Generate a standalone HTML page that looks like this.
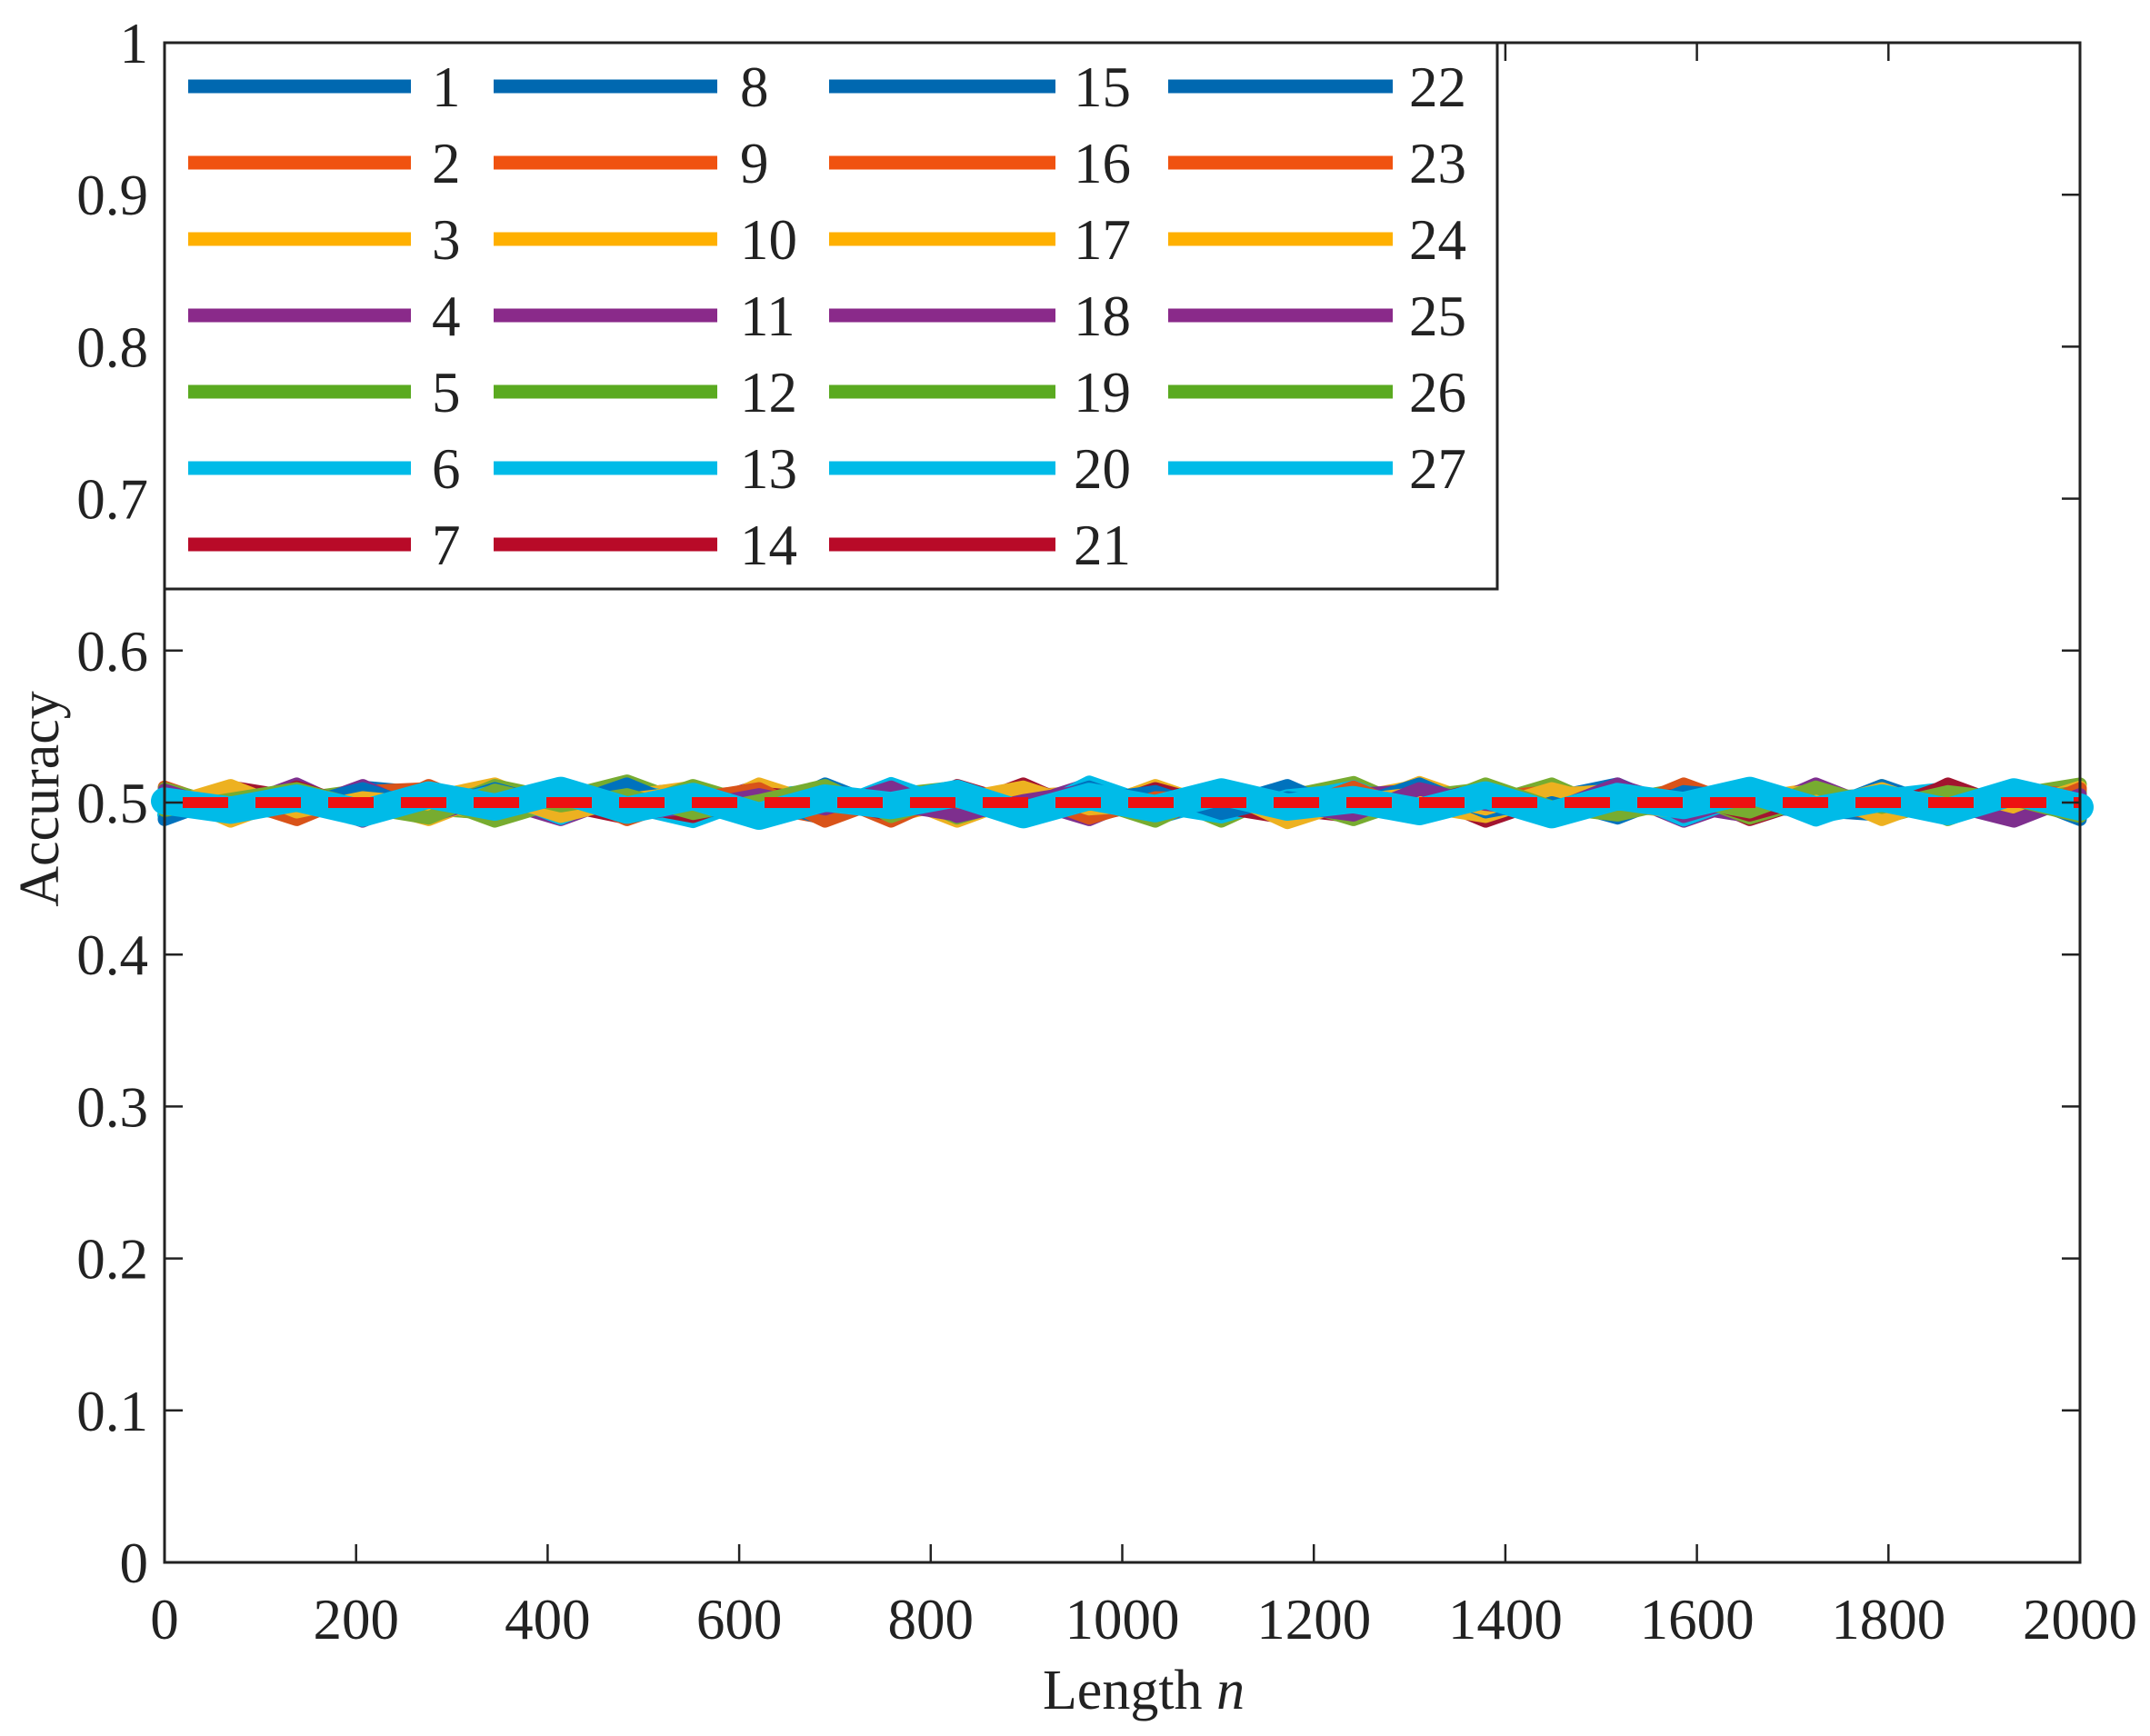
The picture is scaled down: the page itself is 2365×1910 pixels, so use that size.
<!DOCTYPE html>
<html><head><meta charset="utf-8"><style>
html,body{margin:0;padding:0;background:#fff;}
svg{display:block;font-family:"Liberation Serif",serif;}
</style></head><body>
<svg id="chart" width="2365" height="1910" viewBox="0 0 2365 1910">
<g id="marks"></g>
<g id="axes"></g>
<g id="legend"></g>
</svg>
<script>
const xTicks=[0,200,400,600,800,1000,1200,1400,1600,1800,2000];
const yTicks=[0,0.1,0.2,0.3,0.4,0.5,0.6,0.7,0.8,0.9,1];
const yTickLabels=["0","0.1","0.2","0.3","0.4","0.5","0.6","0.7","0.8","0.9","1"];
const colors=["#0072BD","#D95319","#EDB120","#7E2F8E","#77AC30","#00bbe8","#A2142F"];
const legendColors=["#0068b0","#f05210","#ffb000","#8a2a8a","#5aaa20","#00bbe8","#b80a28"];
const seriesLabels=["1","2","3","4","5","6","7","8","9","10","11","12","13","14","15","16","17","18","19","20","21","22","23","24","25","26","27"];
const baseline=0.5;
// deviation from 0.5, in thousandths, 30 samples per series across n = 0..2000
const dev=[
[3,-8,5,-2,9,-6,1,11,-4,-9,6,2,-7,10,-3,4,-11,7,-1,8,-5,3,12,-6,-2,9,-8,5,-3,6],
[-5,7,-9,4,1,-3,10,-7,6,-2,-10,8,3,-6,11,-4,2,-8,9,-1,5,-11,7,0,-5,10,-3,6,-9,4],
[8,-2,6,-10,3,12,-5,1,-7,9,-3,5,-12,4,7,-1,-6,10,-4,13,-2,-8,5,-3,9,-7,11,-5,2,-4],
[-9,4,-1,7,-6,2,-11,5,9,-3,1,-8,6,-2,12,-7,4,-5,1,-9,10,-4,6,-12,3,-6,8,-1,-10,5],
[6,-11,2,8,-4,-7,3,14,-2,5,-9,1,7,-5,-3,10,-8,4,13,-6,2,-10,1,9,-4,-2,7,-11,5,12],
[-2,5,-6,3,-1,8,-4,2,-9,6,0,-5,4,-3,7,-10,2,5,-4,1,-6,9,-2,3,-7,4,-1,6,-8,2],
[4,-6,9,-3,-8,5,-1,-10,7,2,-4,11,-6,3,-9,1,6,-2,-7,10,-5,4,-1,8,-11,3,-6,1,9,-3],
[-7,2,-4,10,6,-9,4,-3,1,-8,12,-5,2,8,-6,-1,9,-12,3,-4,7,1,-9,5,-2,-6,11,-4,3,-8],
[10,-5,1,-6,3,-2,8,-11,4,7,-1,-4,9,-8,2,5,-3,6,-10,2,-7,8,-4,-1,10,-9,3,7,-5,1],
[-3,9,-7,1,-11,6,-2,4,10,-6,3,-9,1,5,-4,8,-1,-7,3,11,-8,0,6,-5,2,9,-6,-2,4,-10],
[1,-4,12,-8,5,-1,-6,7,-3,11,-9,4,-2,-5,9,-11,5,2,-6,-3,8,-7,11,-2,-9,5,1,-7,10,-4],
[-10,6,-3,5,-7,11,2,-5,8,-1,-6,9,-10,3,-2,6,-12,8,-3,5,-1,12,-7,4,-3,7,-10,2,-5,8],
[5,-1,-8,2,7,-4,9,-2,-12,4,8,-3,5,-9,13,-2,-5,1,10,-7,4,-3,2,-8,6,-11,4,9,-1,-6],
[-6,10,3,-9,2,6,-8,3,5,-10,1,7,-4,12,-7,2,8,-4,-9,6,-12,3,-5,10,-1,2,-4,11,-7,3],
[2,-9,6,-1,-5,9,-3,8,-6,3,-11,6,-1,-4,10,-5,-2,11,-8,1,6,-9,3,-2,8,-5,-8,3,6,-11],
[-4,3,-11,7,9,-2,5,-9,2,-5,6,-12,8,-1,4,-3,10,-6,2,-10,3,7,-6,12,-4,1,-2,-9,8,5],
[7,-12,4,-5,1,-10,7,0,-8,12,-2,3,-6,9,-5,11,-4,-1,7,-2,-9,5,8,-7,1,-3,9,-6,-4,10],
[-1,8,-5,11,-9,4,-7,6,3,-4,9,-1,-8,2,-11,7,1,-9,5,8,-3,-6,10,-1,-7,12,-5,4,-2,-3],
[9,-3,7,-7,4,-12,1,-4,11,-2,-7,5,10,-6,3,-8,6,2,-11,4,9,-2,-5,6,-10,3,5,-8,1,7],
[-8,1,-2,6,-3,7,-10,9,-1,4,-5,12,-3,-7,6,-2,-9,4,8,-5,1,-4,7,-11,5,-1,6,-3,10,-6],
[3,-7,10,-4,8,-6,4,-1,-9,6,2,-8,11,-2,-6,9,-3,-10,4,-1,10,-7,1,5,-8,4,-9,12,-4,2],
[-11,5,-2,9,-5,1,-3,12,-6,-3,8,-2,4,-9,1,7,-7,3,-2,12,-6,2,-10,7,3,-9,2,-5,6,-1],
[6,-4,1,-9,11,-7,8,-6,2,9,-12,4,-5,6,-10,3,2,-6,10,-8,4,-11,6,-3,11,-2,-7,1,-9,9],
[-2,11,-6,3,-1,5,-9,2,7,-11,4,-6,2,10,-4,-1,7,-13,1,6,-4,9,-2,-6,2,8,-11,5,-3,4],
[8,-6,3,-12,6,-1,11,-8,-3,5,-4,10,-9,1,8,-6,3,-2,-8,9,-1,-5,12,-9,4,-4,6,-1,-12,5],
[-5,2,9,-3,-10,8,-2,5,-7,1,11,-9,6,-4,2,-12,9,-1,6,-5,12,-3,-8,2,-6,10,-3,7,2,-9],
[1,-5,3,-7,5,-3,8,-5,4,-9,3,-2,6,-8,4,-4,7,-3,2,-6,5,-8,4,-2,8,-5,3,-6,7,-3]
];
const NS="http://www.w3.org/2000/svg";
const L=181,R=2288,T=47,B=1719;
const xs=v=>L+(v-0)/(2000-0)*(R-L);
const ys=v=>B-(v-0)/(1-0)*(B-T);
function mk(tag,attrs,parent){const e=document.createElementNS(NS,tag);for(const k in attrs)e.setAttribute(k,attrs[k]);parent.appendChild(e);return e;}
const marks=document.getElementById('marks'),axes=document.getElementById('axes'),legend=document.getElementById('legend');
dev.forEach((row,si)=>{
  const c=colors[si%7];
  const isCyan=(si%7)===5;
  const pts=row.map((d,i)=>xs(i*2000/(row.length-1)).toFixed(1)+','+ys(baseline+d/1000).toFixed(1)).join(' ');
  const p=mk('polyline',{points:pts,fill:'none',stroke:c,'stroke-width':isCyan?(si===26?30:16):15,'stroke-linejoin':'round','stroke-linecap':'round'},marks);
  
  
});
const ref=mk('line',{x1:xs(0),x2:xs(2000),y1:ys(baseline),y2:ys(baseline),stroke:'#ee1111','stroke-width':12,'stroke-dasharray':'50 30','stroke-dashoffset':'-20'},marks);


const box=mk('rect',{x:L,y:T,width:R-L,height:B-T,fill:'none',stroke:'#222','stroke-width':3},axes);


xTicks.forEach(v=>{
  const x=xs(v);
  mk('line',{x1:x,x2:x,y1:B,y2:B-20,stroke:'#222','stroke-width':2.5},axes);
  mk('line',{x1:x,x2:x,y1:T,y2:T+20,stroke:'#222','stroke-width':2.5},axes);
  const t=mk('text',{x:x,y:1803,'text-anchor':'middle','font-size':63,fill:'#222'},axes);
  t.textContent=v;
  
  
});
yTicks.forEach((v,i)=>{
  const y=ys(v);
  mk('line',{x1:L,x2:L+20,y1:y,y2:y,stroke:'#222','stroke-width':2.5},axes);
  mk('line',{x1:R,x2:R-20,y1:y,y2:y,stroke:'#222','stroke-width':2.5},axes);
  const t=mk('text',{x:163,y:y+22,'text-anchor':'end','font-size':63,fill:'#222'},axes);
  t.textContent=yTickLabels[i];
  
  
});
const xl=mk('text',{x:1258,y:1880,'text-anchor':'middle','font-size':62,fill:'#222'},axes);
xl.innerHTML='Length <tspan font-style="italic">n</tspan>';


const yl=mk('text',{x:0,y:0,'text-anchor':'middle','font-size':62,fill:'#222',transform:'translate(64,879) rotate(-90)'},axes);
yl.textContent='Accuracy';


const lb=mk('rect',{x:L,y:T,width:1647-L,height:648-T,fill:'#fff',stroke:'#222','stroke-width':3},legend);


const colX=[207,543,912,1285],colEnd=[452,789,1161,1532],colText=[475,814,1181,1550];
seriesLabels.forEach((lab,i)=>{
  const col=Math.floor(i/7),row=i%7;
  const y=95+row*84;
  const g=mk('g',{},legend);
  
  
  mk('line',{x1:colX[col],x2:colEnd[col],y1:y,y2:y,stroke:legendColors[i%7],'stroke-width':15},g);
  const t=mk('text',{x:colText[col],y:y+22,'font-size':63,fill:'#222'},g);
  t.textContent=lab;
});
</script>
</body></html>
